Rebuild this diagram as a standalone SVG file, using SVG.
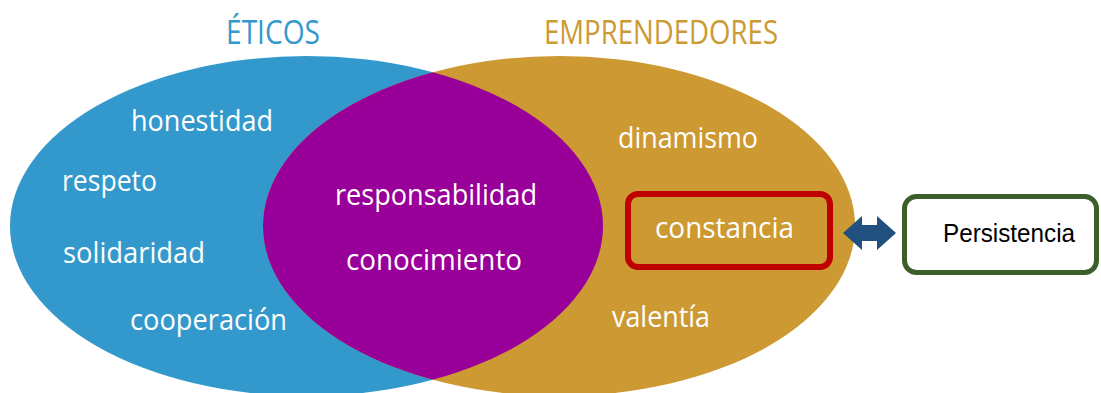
<svg xmlns="http://www.w3.org/2000/svg" width="1101" height="393" viewBox="0 0 1101 393">
<style>
.t{font-family:"Open Sans","Noto Sans","Liberation Sans",sans-serif;font-size:30px;fill:#ffffff;}
.title{font-family:"Open Sans","Noto Sans","Liberation Sans",sans-serif;font-size:32px;}
.box{font-family:"Liberation Sans","Noto Sans",sans-serif;font-size:25px;fill:#000000;}
</style>
<defs>
<clipPath id="clipBlue"><ellipse cx="306.5" cy="226" rx="296.5" ry="170"/></clipPath>
</defs>
<rect width="1101" height="393" fill="#ffffff"/>
<g id="eticos">
<ellipse cx="306.5" cy="226" rx="296.5" ry="170" fill="#3399CC"/>
<text class="title" x="226" y="44" textLength="94" lengthAdjust="spacingAndGlyphs" fill="#3399CC">ÉTICOS</text>
<text class="t" x="131" y="131" textLength="142" lengthAdjust="spacingAndGlyphs">honestidad</text>
<text class="t" x="62" y="191" textLength="95" lengthAdjust="spacingAndGlyphs">respeto</text>
<text class="t" x="63" y="263" textLength="142" lengthAdjust="spacingAndGlyphs">solidaridad</text>
<text class="t" x="130" y="330" textLength="157" lengthAdjust="spacingAndGlyphs">cooperación</text>
</g>
<g id="emprendedores">
<ellipse cx="559" cy="226" rx="296" ry="170" fill="#CC9933"/>
<text class="title" x="544" y="44" textLength="234" lengthAdjust="spacingAndGlyphs" fill="#CC9933">EMPRENDEDORES</text>
<text class="t" x="618" y="148" textLength="140" lengthAdjust="spacingAndGlyphs">dinamismo</text>
<text class="t" x="612" y="327" textLength="98" lengthAdjust="spacingAndGlyphs">valentía</text>
</g>
<g id="interseccion">
<ellipse cx="559" cy="226" rx="296" ry="170" fill="#990099" clip-path="url(#clipBlue)"/>
<text class="t" x="335" y="205" textLength="202" lengthAdjust="spacingAndGlyphs">responsabilidad</text>
<text class="t" x="346" y="270" textLength="176" lengthAdjust="spacingAndGlyphs">conocimiento</text>
</g>
<g id="constancia">
<rect x="628" y="194" width="202" height="73" rx="10" fill="none" stroke="#C00000" stroke-width="6"/>
<text class="t" x="655" y="238" textLength="139" lengthAdjust="spacingAndGlyphs">constancia</text>
</g>
<g id="persistencia">
<rect x="904.5" y="196.5" width="192" height="76" rx="12" fill="#ffffff" stroke="#3B5E2B" stroke-width="5"/>
<text class="box" x="943" y="242" textLength="132" lengthAdjust="spacingAndGlyphs">Persistencia</text>
</g>
<g id="connectors">
<path d="M843,233 L862,216 L862,225 L877,225 L877,216 L896,233 L877,250 L877,241 L862,241 L862,250 Z" fill="#1F5080"/>
</g>
</svg>
